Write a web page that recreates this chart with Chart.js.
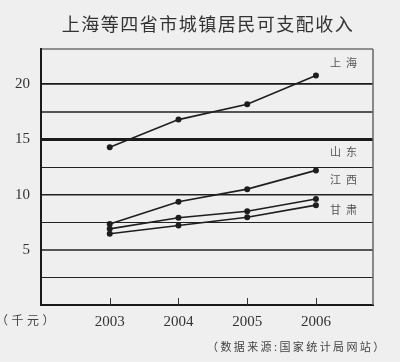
<!DOCTYPE html>
<html>
<head>
<meta charset="utf-8">
<script src="https://cdn.jsdelivr.net/npm/chart.js@4/dist/chart.umd.min.js"></script>
<style>
  html, body { margin: 0; padding: 0; background: #efefef; }
  #wrap { width: 400px; height: 362px; }
</style>
</head>
<body>
<div id="wrap"><canvas id="incomeChart" width="400" height="362"></canvas></div>
<script>
// years on the x axis
let years = [2003, 2004, 2005, 2006];

// income in thousand yuan
let shanghai = [14.3, 16.8, 18.2, 20.8];
let shandong = [7.35, 9.35, 10.5, 12.2];
let jiangxi = [6.9, 7.9, 8.5, 9.6];
let gansu = [6.45, 7.2, 7.95, 9.05];

let seriesNames = ["上海", "山东", "江西", "甘肃"];
let yTicks = [0, 2.5, 5, 7.5, 10, 12.5, 15, 17.5, 20];

function toPoints(values) {
    return values.map(function (v, i) { return { x: years[i], y: v }; });
}

// look of each horizontal rule
function gridColor(v) {
    if (v === 20 || v === 15) return "#1a1a1a";
    if (v === 17.5 || v === 5) return "#555";
    return "#222";
}
function gridWidth(v) {
    if (v === 15) return 3;
    if (v === 20) return 1.8;
    if (v === 17.5 || v === 5) return 2;
    if (v === 10) return 1.5;
    return 1;
}

function spacedText(ctx, text, x, y, font, color, spacing, align) {
    ctx.save();
    ctx.font = font;
    ctx.fillStyle = color;
    ctx.letterSpacing = spacing + "px";
    ctx.textAlign = align || "left";
    ctx.textBaseline = "middle";
    ctx.fillText(text, x, y);
    ctx.restore();
}

// frame, small tick marks and all the extra texts
let extrasPlugin = {
    id: "extras",
    afterDraw: function (chart) {
        let ctx = chart.ctx;
        let area = chart.chartArea;
        let xScale = chart.scales.x;

        ctx.save();
        ctx.strokeStyle = "#333";
        ctx.lineWidth = 1.2;
        ctx.beginPath();
        ctx.moveTo(area.left, area.top);
        ctx.lineTo(area.right, area.top);
        ctx.stroke();
        ctx.strokeStyle = "#666";
        ctx.lineWidth = 1.5;
        ctx.beginPath();
        ctx.moveTo(area.right, area.top);
        ctx.lineTo(area.right, area.bottom);
        ctx.stroke();

        ctx.strokeStyle = "#333";
        ctx.lineWidth = 1;
        years.forEach(function (yr) {
            let px = Math.round(xScale.getPixelForValue(yr)) + 0.5;
            ctx.beginPath();
            ctx.moveTo(px, area.bottom);
            ctx.lineTo(px, area.bottom - 7);
            ctx.stroke();
        });
        ctx.restore();

        spacedText(ctx, "上海等四省市城镇居民可支配收入", 208, 24,
            "18px 'Noto Sans CJK SC'", "#333", 1.5, "center");

        let labelY = [63, 152, 180, 210];
        seriesNames.forEach(function (name, i) {
            spacedText(ctx, name, 330, labelY[i], "11px 'Noto Sans CJK SC'", "#555", 5);
        });

        spacedText(ctx, "（千元）", -4, 320, "12px 'Noto Sans CJK SC'", "#444", 3.5);
        spacedText(ctx, "（数据来源:国家统计局网站）", 207, 347,
            "11px 'Noto Sans CJK SC'", "#444", 2.4);
    }
};

let lineStyle = {
    borderColor: "#1e1e1e",
    backgroundColor: "#1e1e1e",
    borderWidth: 1.6,
    pointRadius: 2.2,
    pointHoverRadius: 2.2,
    tension: 0,
    fill: false
};

let canvasElement = document.getElementById("incomeChart");
let drawingArea = canvasElement.getContext("2d");

let incomeChart = new Chart(drawingArea, {
    type: "line",
    data: {
        datasets: [
            Object.assign({ label: seriesNames[0], data: toPoints(shanghai) }, lineStyle),
            Object.assign({ label: seriesNames[1], data: toPoints(shandong) }, lineStyle),
            Object.assign({ label: seriesNames[2], data: toPoints(jiangxi) }, lineStyle),
            Object.assign({ label: seriesNames[3], data: toPoints(gansu) }, lineStyle)
        ]
    },
    options: {
        responsive: false,
        animation: false,
        layout: { padding: { left: 0, right: 27, top: 49, bottom: 0 } },
        plugins: {
            legend: { display: false },
            tooltip: { enabled: false }
        },
        scales: {
            x: {
                type: "linear",
                min: 2002,
                max: 2006.83,
                afterBuildTicks: function (scale) {
                    scale.ticks = years.map(function (v) { return { value: v }; });
                },
                afterFit: function (scale) { scale.height = 57; },
                grid: { display: false, drawTicks: false },
                border: { display: true, color: "#1a1a1a", width: 2 },
                ticks: {
                    padding: 8,
                    color: "#333",
                    font: { family: "'Liberation Serif'", size: 15 },
                    callback: function (v) { return String(v); }
                }
            },
            y: {
                min: 0,
                max: 23.2,
                afterBuildTicks: function (scale) {
                    scale.ticks = yTicks.map(function (v) { return { value: v }; });
                },
                afterFit: function (scale) { scale.width = 41; },
                grid: {
                    drawTicks: false,
                    color: function (c) { return gridColor(c.tick.value); },
                    lineWidth: function (c) { return c.tick.value === 0 ? 0 : gridWidth(c.tick.value); }
                },
                border: { display: true, color: "#1a1a1a", width: 2 },
                ticks: {
                    padding: 11,
                    color: "#333",
                    font: { family: "'Liberation Serif'", size: 15 },
                    callback: function (v) { return (v > 0 && v % 5 === 0) ? String(v) : ""; }
                }
            }
        }
    },
    plugins: [extrasPlugin]
});
</script>
</body>
</html>
